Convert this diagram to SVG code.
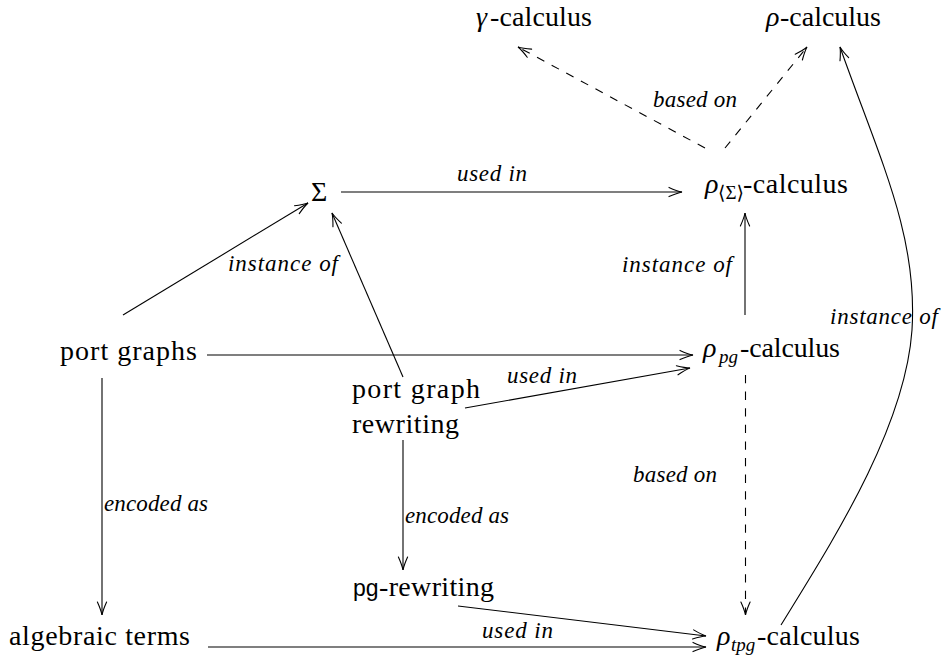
<svg xmlns="http://www.w3.org/2000/svg" width="941" height="660" viewBox="0 0 941 660" font-family="Times New Roman, Liberation Serif, Tinos, DejaVu Serif, Noto Serif, Georgia, serif">
  <style>
    text { fill: #000; }
    .node { font-size: 28px; }
    .it { font-style: italic; }
    .sub { font-size: 19px; }
    .lbl { font-size: 23px; font-style: italic; }
    .edge { fill: none; stroke: #000; stroke-width: 1.1; marker-end: url(#to); }
    .dash { stroke-dasharray: 8.3 8.3; }
  </style>
  <defs>
    <marker id="to" markerUnits="userSpaceOnUse" markerWidth="16" markerHeight="12" refX="0" refY="0" orient="auto" overflow="visible">
      <path d="M -13 -4.6 Q -5 -1 0 0 Q -5 1 -13 4.6" fill="none" stroke="#000" stroke-width="1.1" stroke-linecap="round"/>
    </marker>
  </defs>

  <!-- connectors and their labels -->
  <g id="connectors">
    <path class="edge dash" d="M 705 148 L 518 47"/>
    <path class="edge dash" d="M 725 148 L 807 47"/>
    <text class="lbl" x="653" y="107" textLength="84">based on</text>

    <path class="edge" d="M 341 192 L 682 192"/>
    <text class="lbl" x="457" y="181" textLength="70">used in</text>

    <path class="edge" d="M 123 315 L 308 203"/>
    <path class="edge" d="M 403 377 L 332 213"/>
    <text class="lbl" x="228" y="271" textLength="110">instance of</text>

    <path class="edge" d="M 745 315 L 745 213"/>
    <text class="lbl" x="622" y="272" textLength="110">instance of</text>

    <path class="edge" d="M 781 625 C 830 545, 905 430, 912 330 C 918 235, 880 160, 840 47"/>
    <text class="lbl" x="830" y="324" textLength="108">instance of</text>

    <path class="edge" d="M 207 355 L 693 355"/>
    <path class="edge" d="M 465 408 L 690 368"/>
    <text class="lbl" x="507" y="383" textLength="70">used in</text>

    <path class="edge" d="M 102 378 L 102 615"/>
    <text class="lbl" x="104" y="511" textLength="104">encoded as</text>

    <path class="edge" d="M 403 440 L 403 570"/>
    <text class="lbl" x="405" y="523" textLength="104">encoded as</text>

    <path class="edge dash" d="M 745.5 375 L 745.5 615"/>
    <text class="lbl" x="633" y="482" textLength="84">based on</text>

    <path class="edge" d="M 458 606 L 706 636"/>
    <path class="edge" d="M 208 647 L 706 647"/>
    <text class="lbl" x="482" y="638" textLength="71">used in</text>
  </g>

  <g id="gamma-calculus">
    <text class="node it" x="476" y="26">γ</text>
    <text class="node" x="490" y="26" textLength="102">-calculus</text>
  </g>

  <g id="rho-calculus">
    <text class="node it" x="766" y="26">ρ</text>
    <text class="node" x="780" y="26" textLength="101">-calculus</text>
  </g>

  <g id="sigma">
    <text class="node" x="311" y="201">Σ</text>
  </g>

  <g id="rho-sigma-calculus">
    <text class="node it" x="705" y="193">ρ</text>
    <text class="node sub" x="718" y="199">⟨Σ⟩</text>
    <text class="node" x="743" y="193" textLength="105">-calculus</text>
  </g>

  <g id="port-graphs">
    <text class="node" x="60" y="360" textLength="137">port graphs</text>
  </g>

  <g id="rho-pg-calculus">
    <text class="node it" x="703" y="357">ρ</text>
    <text class="node it sub" x="719" y="363">pg</text>
    <text class="node" x="740" y="357" textLength="100">-calculus</text>
  </g>

  <g id="port-graph-rewriting">
    <text class="node" x="352" y="398" textLength="128">port graph</text>
    <text class="node" x="352" y="433" textLength="107">rewriting</text>
  </g>

  <g id="pg-rewriting">
    <text x="353" y="596" font-family="Arial, Liberation Sans, Arimo, sans-serif" font-size="23">pg</text>
    <text class="node" x="379" y="596" textLength="115">-rewriting</text>
  </g>

  <g id="algebraic-terms">
    <text class="node" x="9" y="645" textLength="181">algebraic terms</text>
  </g>

  <g id="rho-tpg-calculus">
    <text class="node it" x="717" y="645">ρ</text>
    <text class="node it sub" x="731" y="651">tpg</text>
    <text class="node" x="757" y="645" textLength="103">-calculus</text>
  </g>
</svg>
